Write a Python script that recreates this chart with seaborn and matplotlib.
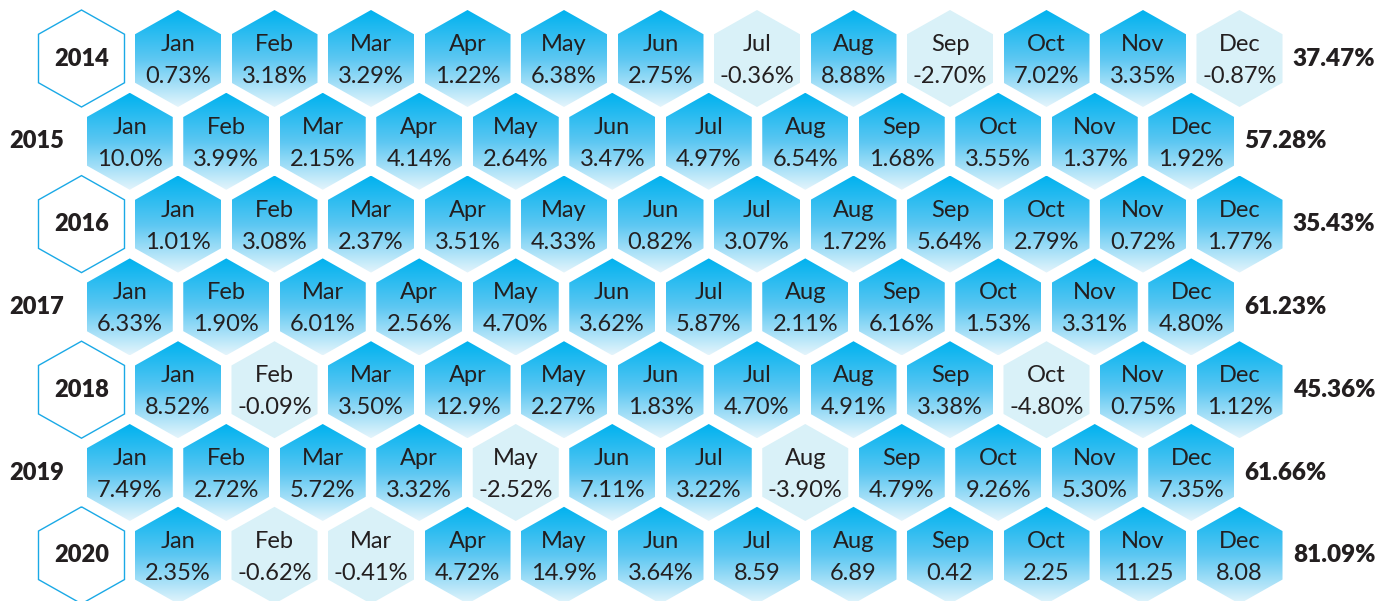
import numpy as np
import pandas as pd
import seaborn as sns
import matplotlib.pyplot as plt
from matplotlib.patches import Polygon

sns.set_style('white')
plt.rcParams['font.family'] = ['Lato', 'DejaVu Sans']

years = ['2014', '2015', '2016', '2017', '2018', '2019', '2020']
months = ['Jan', 'Feb', 'Mar', 'Apr', 'May', 'Jun',
          'Jul', 'Aug', 'Sep', 'Oct', 'Nov', 'Dec']

r2014 = ['0.73%', '3.18%', '3.29%', '1.22%', '6.38%', '2.75%', '-0.36%', '8.88%', '-2.70%', '7.02%', '3.35%', '-0.87%']
r2015 = ['10.0%', '3.99%', '2.15%', '4.14%', '2.64%', '3.47%', '4.97%', '6.54%', '1.68%', '3.55%', '1.37%', '1.92%']
r2016 = ['1.01%', '3.08%', '2.37%', '3.51%', '4.33%', '0.82%', '3.07%', '1.72%', '5.64%', '2.79%', '0.72%', '1.77%']
r2017 = ['6.33%', '1.90%', '6.01%', '2.56%', '4.70%', '3.62%', '5.87%', '2.11%', '6.16%', '1.53%', '3.31%', '4.80%']
r2018 = ['8.52%', '-0.09%', '3.50%', '12.9%', '2.27%', '1.83%', '4.70%', '4.91%', '3.38%', '-4.80%', '0.75%', '1.12%']
r2019 = ['7.49%', '2.72%', '5.72%', '3.32%', '-2.52%', '7.11%', '3.22%', '-3.90%', '4.79%', '9.26%', '5.30%', '7.35%']
r2020 = ['2.35%', '-0.62%', '-0.41%', '4.72%', '14.9%', '3.64%', '8.59', '6.89', '0.42', '2.25', '11.25', '8.08']
totals = ['37.47%', '57.28%', '35.43%', '61.23%', '45.36%', '61.66%', '81.09%']

returns = [r2014, r2015, r2016, r2017, r2018, r2019, r2020]

rows = []
for yi, (yr, vals) in enumerate(zip(years, returns)):
    for mi, (m, v) in enumerate(zip(months, vals)):
        rows.append({'row': yi, 'col': mi, 'year': yr, 'month': m, 'label': v,
                     'value': float(v.rstrip('%'))})
df = pd.DataFrame(rows)

# layout (pixel-like data units)
X0, DX, DY, Y0 = 178, 96.5, 82.8, 58.5
R = 48.5
HW = 43

TEXT = '#231f20'
TOP = '#00b2ef'
MID = '#5cc7f2'
BOTTOM = '#e4f5fc'
NEG = '#d9f1f8'
OUTLINE = '#1aa9e6'

grad_cmap = sns.blend_palette([TOP, MID, BOTTOM], as_cmap=True)
grad = np.linspace(0, 1, 256).reshape(-1, 1)


def center(row, col):
    shift = 0 if row % 2 == 0 else -DX / 2
    return X0 + col * DX + shift, Y0 + row * DY


def hexagon(cx, cy):
    ang = np.deg2rad(np.arange(90, 450, 60))
    return np.column_stack([cx + HW * np.cos(ang) / np.cos(np.deg2rad(30)),
                            cy - R * np.sin(ang)])


fig = plt.figure(figsize=(13.9, 6.01), dpi=100)
ax = fig.add_axes([0, 0, 1, 1])

for _, r in df.iterrows():
    cx, cy = center(r['row'], r['col'])
    poly = Polygon(hexagon(cx, cy), closed=True, facecolor=NEG if r['value'] < 0 else 'none',
                   edgecolor='none')
    ax.add_patch(poly)
    if r['value'] >= 0:
        im = ax.imshow(grad, cmap=grad_cmap, aspect='auto', origin='upper',
                       extent=(cx - HW, cx + HW, cy + R, cy - R), zorder=1)
        im.set_clip_path(poly)
    ax.text(cx, cy - 14, r['month'], ha='center', va='center', fontsize=17, color=TEXT, zorder=3)
    ax.text(cx, cy + 18, r['label'], ha='center', va='center', fontsize=17, color=TEXT, zorder=3)

for yi, (yr, tot) in enumerate(zip(years, totals)):
    cx, cy = center(yi, -1)
    if yi % 2 == 0:
        ax.add_patch(Polygon(hexagon(cx, cy), closed=True, facecolor='none',
                             edgecolor=OUTLINE, linewidth=1.0))
    else:
        cx += 3
    ax.text(cx, cy, yr, ha='center', va='center', fontsize=17, fontweight='heavy', color=TEXT)
    tx, ty = center(yi, 12)
    ax.text(tx - 2, ty, tot, ha='center', va='center', fontsize=17.5, fontweight='heavy', color=TEXT)

ax.set_xlim(0, 1390)
ax.set_ylim(601, 0)
ax.axis('off')

fig.savefig('out.png', dpi=100)
